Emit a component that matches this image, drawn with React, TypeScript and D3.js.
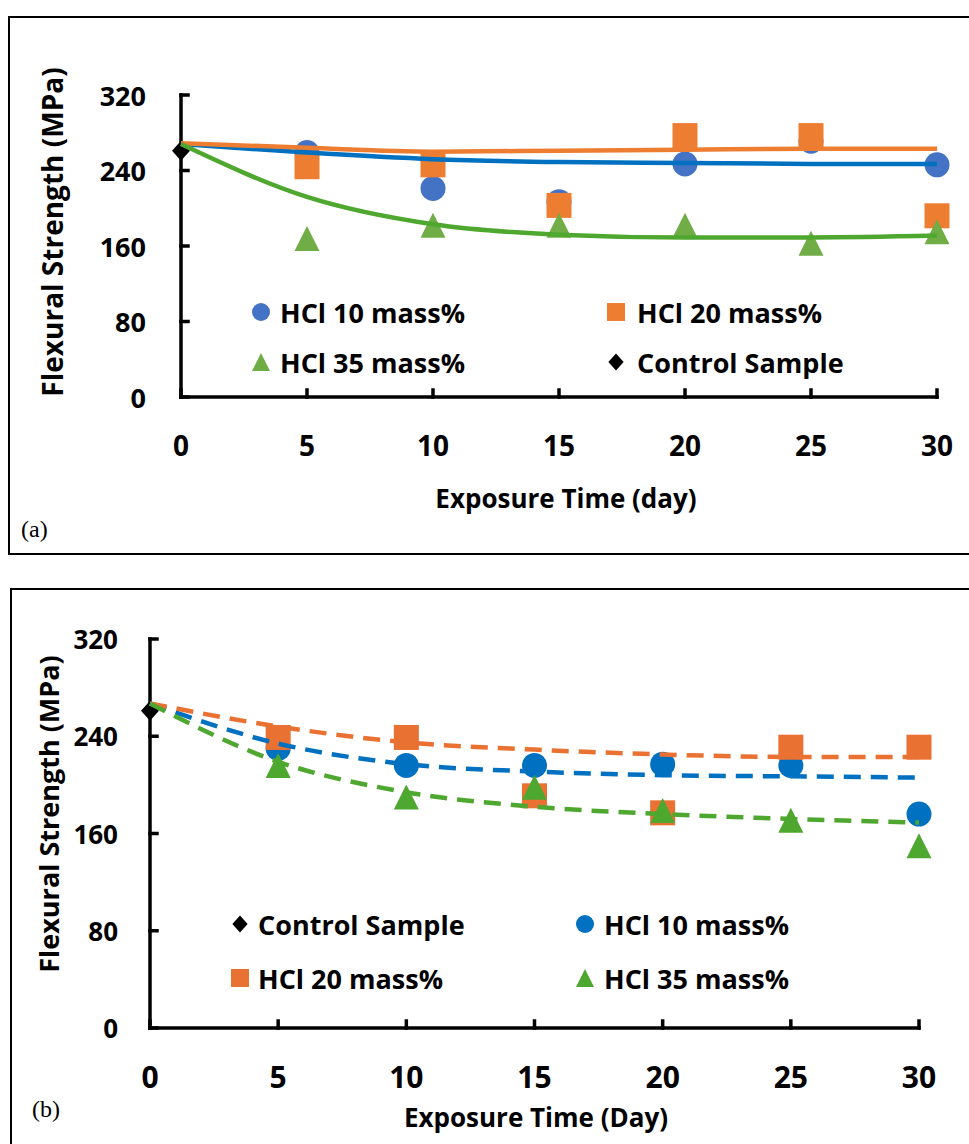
import React from "react";
import * as d3 from "d3";

// exposure days and axis ticks
const fitDays = [0, 5, 10, 15, 20, 25, 30];
const exposureDays = [5, 10, 15, 20, 25, 30];
const xTicks = [0, 5, 10, 15, 20, 25, 30];
const yTicks = [0, 80, 160, 240, 320];

// panel (a) - measured points
const controlA = 261;
const hcl10A = [259, 221, 207, 247, 271, 246];
const hcl20A = [244, 246, 203, 277, 277, 192];
const hcl35A = [168, 182, 182, 182, 163, 175];
// panel (a) - trend lines
const trend10A = [268, 259, 252, 249, 248, 247, 247];
const trend20A = [269, 264, 260, 261, 262, 263, 263];
const trend35A = [268, 212, 183, 172, 169, 169, 171];

// panel (b) - measured points
const controlB = 261;
const hcl10B = [230, 216, 216, 217, 216, 176];
const hcl20B = [239, 239, 191, 177, 231, 231];
const hcl35B = [216, 190, 198, 179, 171, 150];
// panel (b) - dashed trend lines
const trend10B = [267, 234, 217, 211, 208, 207, 206];
const trend20B = [267, 248, 235, 229, 225, 223, 223];
const trend35B = [267, 219, 194, 182, 176, 172, 169];

const FONT = "'Open Sans', 'DejaVu Sans', sans-serif";

function Marker({ shape, x, y, size, color }) {
  const h = size / 2;
  if (shape === "circle") return <circle cx={x} cy={y} r={h} fill={color} />;
  if (shape === "square") return <rect x={x - h} y={y - h} width={size} height={size} fill={color} />;
  if (shape === "triangle")
    return <path d={`M${x},${y - h}L${x + h},${y + h}L${x - h},${y + h}Z`} fill={color} />;
  return <path d={`M${x},${y - h}L${x + h * 0.9},${y}L${x},${y + h}L${x - h * 0.9},${y}Z`} fill={color} />;
}

function Panel(p) {
  const x = d3.scaleLinear().domain([0, 30]).range([p.left, p.right]);
  const y = d3.scaleLinear().domain([0, 320]).range([p.bottom, p.top]);
  const line = d3
    .line()
    .x((d, i) => x(fitDays[i]))
    .y((d) => y(d))
    .curve(d3.curveMonotoneX);

  return (
    <g>
      <rect x={p.frame[0]} y={p.frame[1]} width={p.frame[2]} height={p.frame[3]} fill="none" stroke="#000" strokeWidth={2} />

      {/* axes */}
      <g stroke="#000" strokeWidth={3.5} strokeLinecap="square">
        <line x1={x(0)} x2={x(0)} y1={y(320)} y2={y(0)} />
        <line x1={x(0)} x2={x(30)} y1={y(0)} y2={y(0)} />
        {yTicks.map((t) => (
          <line key={"y" + t} x1={x(0)} x2={x(0) + 7} y1={y(t)} y2={y(t)} />
        ))}
        {xTicks.map((t) => (
          <line key={"x" + t} x1={x(t)} x2={x(t)} y1={y(0)} y2={y(0) - 7} />
        ))}
      </g>
      <g fontFamily={FONT} fontWeight={700} fill="#000">
        {yTicks.map((t) => (
          <text key={t} x={p.yTickX} y={y(t)} fontSize={p.yTickSize} textAnchor="end" dominantBaseline="central">
            {t}
          </text>
        ))}
        {xTicks.map((t) => (
          <text key={t} x={x(t)} y={p.xTickY} fontSize={p.xTickSize} textAnchor="middle" dominantBaseline="central">
            {t}
          </text>
        ))}
        <text x={p.xTitle[0]} y={p.xTitle[1]} fontSize={26} textAnchor="middle">
          {p.xTitleText}
        </text>
        <text
          transform={`translate(${p.yTitle[0]},${p.yTitle[1]}) rotate(-90)`}
          fontSize={p.yTitle[2]}
          textAnchor="middle"
          dominantBaseline="central"
        >
          Flexural Strength (MPa)
        </text>
        {p.legend.map((e) => (
          <g key={e.text}>
            <Marker shape={e.shape} x={e.mx} y={e.y} size={e.shape === "diamond" ? 17 : 18} color={e.color} />
            <text x={e.tx} y={e.y} fontSize={27} dominantBaseline="central">
              {e.text}
            </text>
          </g>
        ))}
      </g>
      <text x={p.tag[0]} y={p.tag[1]} fontFamily="'Liberation Serif', 'Times New Roman', serif" fontSize={24}>
        {p.tagText}
      </text>

      {/* points */}
      {p.hcl10.map((v, i) => (
        <Marker key={"c" + i} shape="circle" x={x(exposureDays[i])} y={y(v)} size={25} color={p.colors.c10} />
      ))}
      {p.hcl20.map((v, i) => (
        <Marker key={"s" + i} shape="square" x={x(exposureDays[i])} y={y(v)} size={25} color={p.colors.c20} />
      ))}
      {p.hcl35.map((v, i) => (
        <Marker key={"t" + i} shape="triangle" x={x(exposureDays[i])} y={y(v)} size={25} color={p.colors.c35} />
      ))}
      <Marker shape="diamond" x={x(0)} y={y(p.control)} size={20} color="#000" />

      {/* trend lines */}
      {[
        [p.trend10, p.colors.l10],
        [p.trend20, p.colors.l20],
        [p.trend35, p.colors.l35],
      ].map(([d, c], i) => (
        <path
          key={i}
          d={line(d)}
          fill="none"
          stroke={c}
          strokeWidth={4.5}
          strokeDasharray={p.dashed ? "17 10" : null}
        />
      ))}
    </g>
  );
}

export default function App() {
  return (
    <svg width={969} height={1144} style={{ position: "absolute", left: 0, top: 0, background: "#fff" }}>
      <rect width={969} height={1144} fill="#fff" />
      <Panel
        frame={[9, 17, 1000, 537]}
        left={181}
        right={937}
        top={95}
        bottom={397}
        yTickX={146}
        yTickSize={27}
        xTickY={445}
        xTickSize={28}
        xTitle={[566, 508]}
        xTitleText="Exposure Time (day)"
        yTitle={[52, 232, 28]}
        tag={[21, 537]}
        tagText="(a)"
        control={controlA}
        hcl10={hcl10A}
        hcl20={hcl20A}
        hcl35={hcl35A}
        trend10={trend10A}
        trend20={trend20A}
        trend35={trend35A}
        dashed={false}
        colors={{ c10: "#4472C4", c20: "#ED7D31", c35: "#70AD47", l10: "#0070C0", l20: "#ED7D31", l35: "#4EA72E" }}
        legend={[
          { shape: "circle", color: "#4472C4", mx: 261, tx: 280, y: 312, text: "HCl 10 mass%" },
          { shape: "square", color: "#ED7D31", mx: 616, tx: 637, y: 312, text: "HCl 20 mass%" },
          { shape: "triangle", color: "#70AD47", mx: 261, tx: 280, y: 362, text: "HCl 35 mass%" },
          { shape: "diamond", color: "#000", mx: 616, tx: 637, y: 362, text: "Control Sample" },
        ]}
      />
      <Panel
        frame={[11, 589, 1000, 600]}
        left={150}
        right={919}
        top={639}
        bottom={1028}
        yTickX={118}
        yTickSize={26}
        xTickY={1076}
        xTickSize={30}
        xTitle={[536, 1127]}
        xTitleText="Exposure Time (Day)"
        yTitle={[48, 814, 27]}
        tag={[32, 1117]}
        tagText="(b)"
        control={controlB}
        hcl10={hcl10B}
        hcl20={hcl20B}
        hcl35={hcl35B}
        trend10={trend10B}
        trend20={trend20B}
        trend35={trend35B}
        dashed={true}
        colors={{ c10: "#0070C0", c20: "#E97132", c35: "#4EA72E", l10: "#0070C0", l20: "#E97132", l35: "#4EA72E" }}
        legend={[
          { shape: "diamond", color: "#000", mx: 240, tx: 258, y: 924, text: "Control Sample" },
          { shape: "circle", color: "#0070C0", mx: 585, tx: 604, y: 924, text: "HCl 10 mass%" },
          { shape: "square", color: "#E97132", mx: 240, tx: 258, y: 978, text: "HCl 20 mass%" },
          { shape: "triangle", color: "#4EA72E", mx: 585, tx: 604, y: 978, text: "HCl 35 mass%" },
        ]}
      />
    </svg>
  );
}
